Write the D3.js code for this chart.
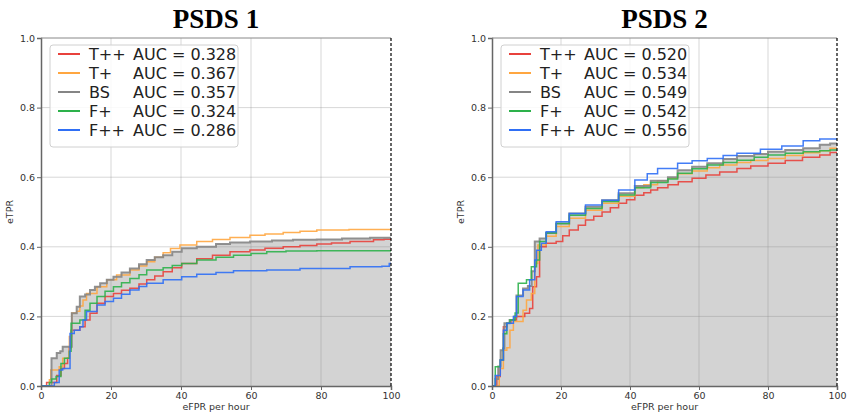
<!DOCTYPE html>
<html>
<head>
<meta charset="utf-8">
<script src="https://cdn.jsdelivr.net/npm/d3@7"></script>
<style>
  body { margin: 0; background: #fff; }
  svg text { font-family: "DejaVu Sans", sans-serif; }
</style>
</head>
<body>
<svg id="chart" width="850" height="414"></svg>
<script>
// ---- data ----
const xTicks = [0, 20, 40, 60, 80, 100];
const yTicks = [0, 0.2, 0.4, 0.6, 0.8, 1.0];
const systems = ['T++', 'T+', 'BS', 'F+', 'F++'];
const colors = ['#e8413c', '#ffa640', '#858585', '#2db14b', '#2f6ff5'];
const titles = ['PSDS 1', 'PSDS 2'];
const auc1 = ['0.328', '0.367', '0.357', '0.324', '0.286'];
const auc2 = ['0.520', '0.534', '0.549', '0.542', '0.556'];

// PSDS 1 step curves [eFPR, eTPR]
const p1Tpp = [[0,0],[1.6,0.01],[4.5,0.03],[5.7,0.05],[6.7,0.065],[7.6,0.08],[8.1,0.11],[8.6,0.16],[11.1,0.17],[12.6,0.19],[14,0.209],[16,0.238],[18.3,0.257],[20.7,0.266],[23,0.275],[25.4,0.281],[28,0.293],[30.2,0.305],[32.5,0.316],[34.9,0.328],[37.5,0.34],[40.2,0.352],[44.5,0.366],[49,0.376],[54,0.386],[59.7,0.391],[64,0.396],[69.2,0.4],[74,0.404],[78.8,0.408],[83,0.411],[88.3,0.415],[95,0.42],[98,0.422]];
const p1Tp = [[0,0],[2.4,0.018],[2.8,0.046],[5.2,0.055],[6.2,0.08],[8.1,0.142],[8.8,0.21],[10.2,0.215],[11.1,0.23],[12,0.247],[13,0.266],[16,0.285],[18.8,0.305],[21.6,0.319],[25.4,0.333],[28,0.345],[30.2,0.357],[32.5,0.37],[34.9,0.383],[37,0.395],[39.7,0.405],[44.5,0.415],[49,0.421],[54,0.427],[59.7,0.433],[64,0.437],[69.2,0.441],[74,0.445],[78.8,0.448],[88,0.45]];
const p1BS = [[0,0],[3,0.08],[4.5,0.095],[5.5,0.1],[6.2,0.113],[8.8,0.209],[10.2,0.228],[11.1,0.257],[12.6,0.263],[14,0.276],[15.4,0.285],[16.9,0.295],[18.8,0.305],[20.7,0.314],[23,0.326],[25.4,0.338],[28,0.35],[30.2,0.362],[32.5,0.37],[34.9,0.376],[37.5,0.386],[40.2,0.396],[44.5,0.4],[50,0.408],[54,0.412],[59.7,0.415],[66,0.418],[72,0.42],[78.8,0.421],[86,0.424],[94,0.426]];
const p1Fp = [[0,0],[2.4,0.01],[3,0.02],[4.3,0.027],[5.7,0.065],[6.7,0.08],[8.1,0.1],[8.6,0.18],[11.1,0.19],[12.6,0.218],[14,0.238],[16,0.257],[18.3,0.272],[20.7,0.285],[23,0.297],[25.4,0.309],[28,0.32],[30.2,0.333],[34.9,0.34],[37.5,0.346],[40.2,0.352],[44.5,0.362],[50,0.37],[55,0.376],[60,0.381],[64.5,0.386],[70,0.388],[78.8,0.389]];
const p1Fpp = [[0,0],[3.8,0.01],[5.2,0.046],[6.2,0.05],[8.3,0.151],[9.5,0.16],[11.1,0.17],[12,0.19],[13,0.214],[16,0.233],[18.3,0.243],[20.7,0.252],[23,0.264],[25.4,0.276],[28,0.286],[30.2,0.295],[34.9,0.305],[40.2,0.314],[44.5,0.321],[50,0.326],[55,0.331],[64.5,0.333],[74,0.338],[88.3,0.343],[97.4,0.344],[99.5,0.352]];

// PSDS 2 step curves
const p2Tpp = [[0,0],[1.4,0.027],[2.4,0.075],[3.3,0.17],[4.3,0.18],[5.5,0.19],[7.1,0.2],[9.5,0.209],[10.9,0.223],[11.8,0.285],[12.9,0.314],[13.8,0.4],[15.7,0.41],[18.6,0.415],[20.5,0.432],[22.4,0.448],[25,0.462],[27.1,0.477],[29.5,0.488],[31.9,0.5],[34.3,0.512],[36.7,0.525],[39,0.535],[41.4,0.548],[44,0.555],[46,0.563],[48,0.57],[51,0.578],[54,0.587],[58,0.597],[62,0.606],[66,0.615],[71,0.625],[75,0.632],[80,0.64],[85,0.648],[90,0.657],[95,0.664],[98,0.671]];
const p2Tp = [[0,0],[2.1,0.05],[3.3,0.103],[4.3,0.11],[5.2,0.16],[6.2,0.185],[9,0.218],[10,0.247],[11.4,0.266],[12.4,0.352],[13.3,0.405],[15.7,0.43],[18.6,0.458],[22.4,0.482],[27.1,0.505],[31.9,0.525],[36.7,0.545],[41.4,0.57],[44,0.578],[48,0.59],[51,0.597],[53.8,0.61],[58,0.618],[62.4,0.627],[66,0.635],[71,0.642],[75,0.648],[80,0.654],[85,0.662],[90.2,0.67],[95,0.676],[98,0.683]];
const p2BS = [[0,0],[1,0.02],[1.8,0.056],[2.5,0.103],[3.2,0.108],[3.6,0.18],[5.1,0.19],[6.5,0.2],[7.1,0.26],[9,0.28],[10.4,0.287],[11.5,0.33],[12.4,0.415],[13.8,0.424],[15.7,0.44],[18.6,0.467],[22.4,0.496],[27.1,0.515],[31.9,0.534],[36.7,0.554],[41.4,0.575],[46,0.59],[51,0.6],[53.8,0.62],[58,0.63],[62.4,0.64],[67,0.652],[71,0.661],[76,0.667],[80,0.673],[85,0.678],[90.2,0.683],[95,0.693],[98,0.697]];
const p2Fp = [[0,0],[0.95,0.055],[2.4,0.075],[3.3,0.15],[4.3,0.18],[5.2,0.19],[6.7,0.21],[7.6,0.295],[10,0.305],[11.4,0.343],[12.9,0.362],[13.8,0.415],[15.7,0.44],[18.6,0.467],[22.4,0.491],[27.1,0.51],[31.9,0.53],[36.7,0.549],[41.4,0.57],[46,0.585],[51,0.595],[53.8,0.611],[58,0.624],[62.4,0.635],[67,0.642],[71,0.649],[76,0.657],[80,0.664],[85,0.669],[90.2,0.673],[95,0.676],[98,0.678]];
const p2Fpp = [[0,0],[0.95,0.03],[2.4,0.075],[3.3,0.16],[4.3,0.18],[6.2,0.2],[7.1,0.257],[9,0.276],[10.9,0.305],[12.4,0.362],[12.9,0.39],[14.3,0.41],[15.7,0.443],[18.6,0.472],[22.4,0.496],[27.1,0.52],[31.9,0.534],[36.7,0.563],[41.4,0.592],[45,0.61],[48,0.625],[53.8,0.64],[58,0.647],[62.4,0.654],[67,0.662],[71,0.669],[77.8,0.68],[84,0.69],[90.2,0.705],[95,0.71],[99.5,0.71]];

const panelCurves = [[p1Tpp, p1Tp, p1BS, p1Fp, p1Fpp], [p2Tpp, p2Tp, p2BS, p2Fp, p2Fpp]];
const panelAuc = [auc1, auc2];

// ---- layout ----
const svg = d3.select('#chart');
const plotH = 348, plotTop = 38;
const lefts = [41, 492];
const widths = [350, 345];

lefts.forEach((left, p) => {
    const plotW = widths[p];
    const g = svg.append('g').attr('transform', `translate(${left},${plotTop})`);
    const x = d3.scaleLinear().domain([0, 100]).range([0, plotW]);
    const y = d3.scaleLinear().domain([0, 1]).range([plotH, 0]);
    const extend = pts => pts.concat([[100, pts[pts.length - 1][1]]]);

    // shaded area under the baseline (BS) curve
    const area = d3.area()
        .curve(d3.curveStepAfter)
        .x(d => x(d[0]))
        .y0(y(0))
        .y1(d => y(d[1]));
    g.append('path')
        .datum(extend(panelCurves[p][2]))
        .attr('d', area)
        .attr('fill', '#d3d3d3');

    // grid
    g.append('g').selectAll('line').data(xTicks.slice(1, -1)).join('line')
        .attr('x1', d => x(d)).attr('x2', d => x(d))
        .attr('y1', 0).attr('y2', plotH)
        .attr('stroke', 'rgba(140,140,140,0.35)').attr('stroke-width', 1);
    g.append('g').selectAll('line').data(yTicks.slice(1, -1)).join('line')
        .attr('x1', 0).attr('x2', plotW)
        .attr('y1', d => y(d)).attr('y2', d => y(d))
        .attr('stroke', 'rgba(140,140,140,0.35)').attr('stroke-width', 1);

    // curves
    const line = d3.line()
        .curve(d3.curveStepAfter)
        .x(d => x(d[0]))
        .y(d => y(d[1]));
    panelCurves[p].forEach((pts, i) => {
        g.append('path')
            .datum(extend(pts))
            .attr('d', line)
            .attr('fill', 'none')
            .attr('stroke', colors[i])
            .attr('stroke-width', i === 2 ? 2 : 1.5)
            .attr('stroke-opacity', 0.9);
    });

    // axes
    const xAxis = g.append('g')
        .attr('transform', `translate(0,${plotH})`)
        .call(d3.axisBottom(x).tickValues(xTicks).tickSize(4).tickPadding(2).tickFormat(d3.format('d')));
    const yAxis = g.append('g')
        .call(d3.axisLeft(y).tickValues(yTicks).tickSize(4).tickPadding(2).tickFormat(d3.format('.1f')));
    [xAxis, yAxis].forEach(a => {
        a.select('.domain').attr('stroke', '#666').attr('stroke-width', 1.5);
        a.selectAll('.tick line').attr('stroke', '#666');
        a.selectAll('.tick text')
            .attr('fill', '#333')
            .style('font-family', '"DejaVu Sans", sans-serif')
            .style('font-size', '9.5px');
    });

    // top spine and dashed right edge
    g.append('line')
        .attr('x1', 0).attr('x2', plotW).attr('y1', 0).attr('y2', 0)
        .attr('stroke', '#888').attr('stroke-width', 1);
    g.append('line')
        .attr('x1', x(100)).attr('x2', x(100)).attr('y1', 0).attr('y2', plotH)
        .attr('stroke', '#000').attr('stroke-width', 1.2)
        .attr('stroke-dasharray', '3,2');

    // axis labels
    g.append('text')
        .attr('x', plotW / 2)
        .attr('y', plotH + 24)
        .attr('text-anchor', 'middle')
        .attr('fill', '#333')
        .style('font-size', '9.5px')
        .text('eFPR per hour');
    g.append('text')
        .attr('transform', `translate(${-28},${plotH / 2}) rotate(-90)`)
        .attr('text-anchor', 'middle')
        .attr('fill', '#333')
        .style('font-size', '9.5px')
        .text('eTPR');

    // title
    svg.append('text')
        .attr('x', left + plotW / 2)
        .attr('y', 28)
        .attr('text-anchor', 'middle')
        .style('font-family', '"Liberation Serif", serif')
        .style('font-weight', 'bold')
        .style('font-size', '27px')
        .text(titles[p]);

    // legend
    const lg = g.append('g').attr('transform', 'translate(9,7)');
    lg.append('rect')
        .attr('width', 188).attr('height', 102)
        .attr('rx', 3)
        .attr('fill', 'rgba(255,255,255,0.85)')
        .attr('stroke', '#d0d0d0');
    systems.forEach((s, i) => {
        const ly = 9 + i * 19;
        lg.append('line')
            .attr('x1', 8).attr('x2', 30)
            .attr('y1', ly).attr('y2', ly)
            .attr('stroke', colors[i]).attr('stroke-width', 2);
        lg.append('text')
            .attr('x', 39).attr('y', ly + 6)
            .attr('fill', '#222')
            .style('font-size', '16px')
            .text(s);
        lg.append('text')
            .attr('x', 83).attr('y', ly + 6)
            .attr('fill', '#222')
            .style('font-size', '16px')
            .text(`AUC = ${panelAuc[p][i]}`);
    });
});
</script>
</body>
</html>
